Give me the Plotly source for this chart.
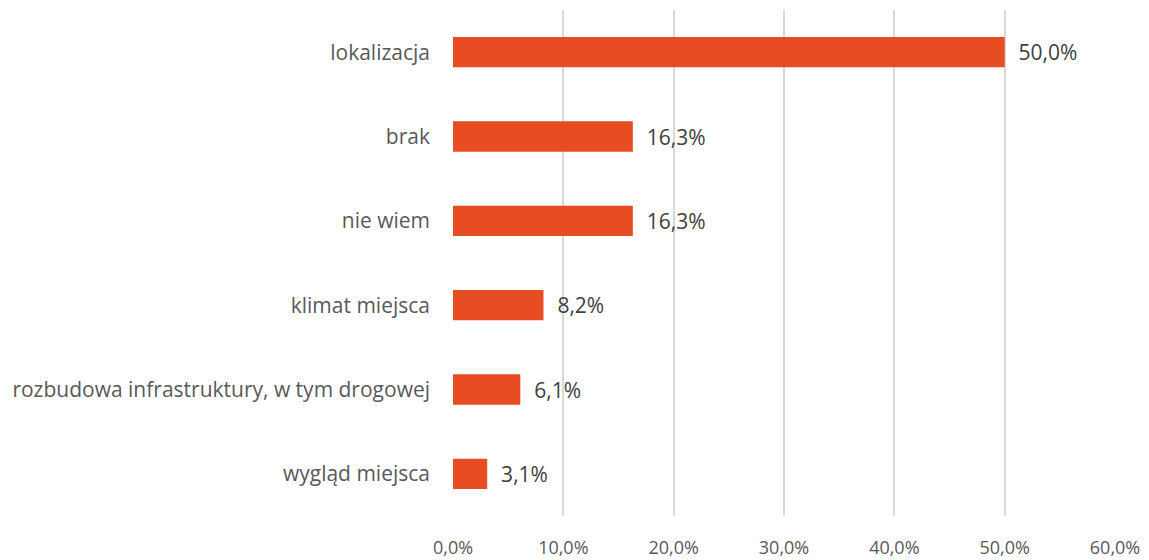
import plotly.graph_objects as go

categories = [
    "lokalizacja",
    "brak",
    "nie wiem",
    "klimat miejsca",
    "rozbudowa infrastruktury, w tym drogowej",
    "wygląd miejsca",
]
values = [50.0, 16.3, 16.3, 8.2, 6.1, 3.1]
tick_vals = [0, 10, 20, 30, 40, 50, 60]
tick_text = ["0,0%", "10,0%", "20,0%", "30,0%", "40,0%", "50,0%", "60,0%"]

labels = ["  " + f"{v:.1f}".replace(".", ",") + "%" for v in values]

fig = go.Figure()
fig.add_trace(go.Bar(
    x=values,
    y=categories,
    orientation="h",
    marker=dict(color="#E84C22", line=dict(width=0)),
    width=0.36,
    text=labels,
    textposition="outside",
    cliponaxis=False,
    textfont=dict(family="Open Sans", size=21, color="#404040"),
))

# page has an 8px body margin, so the figure is sized to fit the 1149x560 window
fig.update_layout(
    width=1141,
    height=552,
    margin=dict(l=445, r=34, t=2, b=44),
    plot_bgcolor="white",
    paper_bgcolor="white",
    showlegend=False,
    font=dict(family="Open Sans", size=16, color="#595959"),
    xaxis=dict(
        range=[0, 60],
        tickvals=tick_vals,
        ticktext=tick_text,
        showgrid=True,
        gridcolor="#D9D9D9",
        gridwidth=1.5,
        zeroline=False,
        showline=False,
        automargin=False,
        ticklabelstandoff=19,
        tickfont=dict(family="Open Sans", size=18, color="#595959"),
    ),
    yaxis=dict(
        autorange="reversed",
        showgrid=False,
        zeroline=False,
        showline=False,
        automargin=False,
        ticklabelstandoff=22,
        tickfont=dict(family="Open Sans", size=21, color="#595959"),
    ),
)

fig.write_html("out.html")
